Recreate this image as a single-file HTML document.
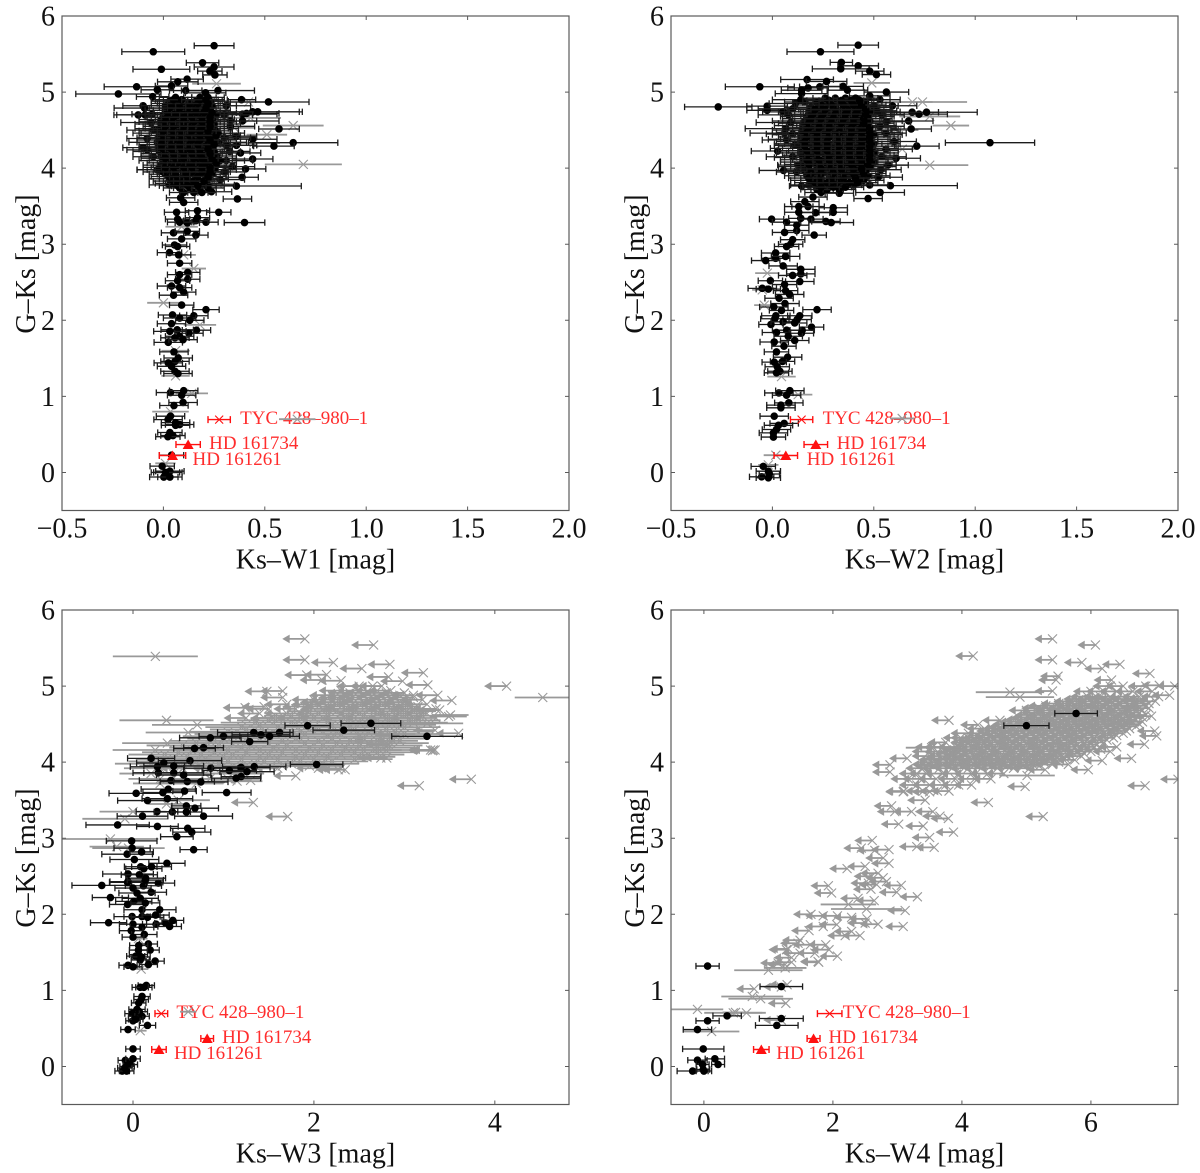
<!DOCTYPE html>
<html>
<head>
<meta charset="utf-8">
<title>Colour-colour diagrams</title>
<style>
html,body{margin:0;padding:0;background:#fff;width:1200px;height:1173px;overflow:hidden}
svg{display:block}
text{font-family:"Liberation Serif",serif}
</style>
</head>
<body>
<svg id="figure" width="1200" height="1173" viewBox="0 0 1200 1173" xmlns="http://www.w3.org/2000/svg"></svg>
<script>
/* ===== data: [x, y, xerr] detections; [x, y, xerr] grey (xerr 0 = upper limit) ===== */
const starNames = ['TYC 428–980–1', 'HD 161734', 'HD 161261'];
const starG = [0.695, 0.367, 0.223];
const w1StarX = [0.275, 0.122, 0.045];
const w1StarErr = [0.055, 0.06, 0.065];
const w2StarX = [0.144, 0.214, 0.066];
const w2StarErr = [0.055, 0.058, 0.058];
const w3StarX = [0.313, 0.82, 0.287];
const w3StarErr = [0.07, 0.07, 0.08];
const w4StarX = [1.95, 1.7, 0.89];
const w4StarErr = [0.19, 0.1, 0.12];

const w1Ticks = [-0.5, 0, 0.5, 1, 1.5, 2];
const w2Ticks = [-0.5, 0, 0.5, 1, 1.5, 2];
const w3Ticks = [0, 2, 4];
const w4Ticks = [0, 2, 4, 6];
const gTicks = [0, 1, 2, 3, 4, 5, 6];

const w1Detections = [
[-.05,5.53,.155],[.25,5.61,.098],[.193,5.385,.08],[.25,5.33,.098],[-.01,5.3,.14],[.229,5.275,.06],[.254,5.225,.06],[.117,5.17,.08],[.071,5.135,.1],[-.132,5.07,.16],[-.222,4.975,.21],[.04,5.08,.08],[.269,5.02,.18],[.11,5.02,.08],[-.03,5.03,.08],[-.053,4.94,.08],[.208,4.99,.1],[.385,4.9,.07],[.518,4.87,.2],[-.093,4.79,.15],[-.1,4.82,.1],[-.124,4.7,.12],[-.09,4.7,.14],[-.055,4.71,.1],[.39,4.71,.17],[.41,4.72,.16],[.44,4.74,.23],[.465,4.74,.22],[.39,4.62,.18],[.57,4.515,.1],[-.08,4.39,.1],[.44,4.38,.12],[.64,4.335,.22],[.545,4.29,.1],[-.1,4.27,.1],[-.08,4.24,.1],[.36,4.42,.1],[.36,4.3,.1],[.327,4.22,.1],[.38,4.2,.1],[.44,4.12,.1],[.405,3.99,.1],[.388,3.88,.08],[.36,3.765,.32],[.237,3.69,.1],[.365,3.595,.07],[.273,3.42,.06],[.4,3.285,.1],[.21,3.29,.06],[.168,3.44,.06],[.168,3.35,.06],[.16,3.31,.06],[.118,3.28,.06],[.065,3.42,.06],[.07,3.33,.06],[.08,3.29,.06],[.085,3.61,.07],[.1,3.55,.07],[.05,3.15,.06],[.118,3.17,.06],[.16,3.12,.06],[.09,3.07,.07],[.055,2.99,.06],[.07,2.97,.06],[.03,2.89,.06],[.075,2.86,.06],[.08,2.75,.06],[.12,2.63,.06],[.08,2.6,.06],[.12,2.54,.06],[.07,2.52,.06],[.04,2.45,.07],[.08,2.43,.06],[.1,2.37,.06],[.05,2.33,.07],
[.21,2.14,.065],[.045,2.07,.07],[.09,2.2,.06],[.15,2.06,.07],[.08,2.03,.08],[.13,2.0,.07],[.04,1.955,.07],[.163,1.87,.07],[.068,1.875,.08],[.126,1.83,.07],[.032,1.855,.08],[.08,1.79,.07],[.057,1.77,.07],[.024,1.71,.07],[.097,1.745,.07],[.052,1.585,.07],[.073,1.505,.07],[.057,1.46,.07],[.024,1.44,.07],[.04,1.395,.07],[.057,1.33,.07],[.072,1.3,.07],[.035,1.05,.07],[.1,1.075,.07],[.09,1.015,.07],[.097,.92,.07],[.052,.88,.07],[.035,.74,.07],[.023,.695,.07],[.06,.655,.07],[.08,.63,.07],[.06,.62,.07],[.032,.525,.06],[.047,.485,.06],[.022,.47,.06],[.04,.227,.06],[-.006,.083,.06],[.032,.017,.07],[.022,0,.07],[.002,-.06,.07],[.032,-.06,.06],[.01,0,.07],
[.3,4.7,.14],[.33,4.55,.12],[.31,4.1,.13],[.34,4.02,.11],[.3,3.95,.1],[.28,3.85,.12],[.3,4.4,.13],[-.05,4.5,.13],[-.06,4.6,.15],[-.05,4.15,.1],[-.03,3.98,.1],[.31,4.82,.12],[.33,4.62,.13],[.31,4.3,.13],[.03,3.78,.1],[.22,3.78,.13]];
const w1BlobRows = [
[3.68,.07,.1,.15,.19],[3.74,.08,.08,.13,.18,.22],[3.8,.09,.05,.1,.15,.2],[3.86,.1,.03,.08,.12,.17,.22],[3.92,.08,.01,.05,.1,.15,.2,.24],[3.98,.11,-.02,.03,.07,.12,.16,.21,.25],[4.04,.09,-.01,.04,.09,.13,.18,.22,.26],[4.1,.12,0,.05,.1,.14,.19,.24,.28],[4.16,.1,-.01,.03,.08,.12,.17,.21,.26],[4.22,.13,-.02,.03,.07,.12,.16,.2,.25],[4.28,.1,-.02,.02,.06,.11,.15,.2,.24],[4.34,.14,-.03,.01,.06,.1,.15,.19,.24,.27],[4.4,.11,-.02,.03,.07,.12,.16,.21,.25],[4.46,.13,-.02,.02,.07,.11,.15,.2,.24,.27],[4.52,.12,-.02,.03,.07,.12,.16,.2,.25],[4.58,.13,-.01,.04,.08,.13,.17,.21,.25],[4.64,.11,-.01,.03,.07,.12,.16,.21,.24],[4.7,.12,0,.05,.09,.13,.18,.22,.26],[4.76,.1,.01,.05,.1,.14,.18,.23],[4.82,.12,.01,.06,.1,.15,.19,.24],[4.88,.09,.03,.07,.16,.2,.23],[4.93,.08,.06,.18,.22]];
const w1BlobFillRows = [
[3.77,.09,.07,.12,.17],[3.83,.1,.05,.1,.15,.2],[3.89,.09,.03,.07,.12,.17,.22],[3.95,.1,0,.05,.1,.14,.19,.23],[4.01,.11,.01,.05,.1,.14,.19,.23],[4.07,.1,.02,.07,.12,.16,.21,.26],[4.13,.12,.01,.06,.1,.15,.19,.24],[4.19,.11,0,.05,.1,.14,.18,.23],[4.25,.12,0,.04,.09,.13,.18,.22],[4.31,.11,-.01,.04,.08,.13,.17,.22,.25],[4.37,.13,0,.05,.09,.14,.18,.23],[4.43,.12,0,.05,.09,.13,.18,.22,.26],[4.49,.12,0,.05,.09,.14,.18,.22],[4.55,.11,.01,.05,.1,.14,.19,.23],[4.61,.13,.01,.05,.1,.15,.19,.23],[4.67,.11,.02,.05,.1,.14,.19,.23],[4.73,.12,.03,.07,.12,.16,.2,.24],[4.79,.1,.03,.08,.12,.16,.21],[4.85,.11,.05,.08,.13,.17,.22],[4.9,.09,.05,.09,.18,.21]];
const w1Grey = [[.262,5.11,.12],[.42,4.87,.12],[.64,4.56,.15],[.51,4.44,.1],[.445,4.33,.13],[.69,4.05,.19],[.43,4.66,.15],[.27,3.79,.08],[.35,4.53,.1],[.09,3.23,.08],[.15,2.68,.06],[.1,2.86,.06],[.18,1.94,.08],[0,2.23,.08],[.06,1.6,.07],[.06,1.27,.07],[.14,1.04,.08],[.035,.8,.09],[.66,.7,.09],[.01,.12,.05]];

const w2Detections = [
[.423,5.617,.1],[.237,5.53,.165],[.34,5.39,.055],[.423,5.345,.1],[.337,5.305,.14],[.48,5.275,.07],[.513,5.23,.07],[.171,5.165,.13],[.267,5.14,.1],[.234,5.07,.1],[-.062,5.07,.17],[.176,5.055,.1],[.144,5.025,.1],[.144,4.98,.13],[.349,5.075,.1],[.37,5.025,.1],[.562,5.0,.11],[.53,4.9,.1],[.48,4.95,.1],[-.267,4.805,.166],[-.026,4.815,.1],[-.026,4.76,.1],[.052,4.74,.1],[.114,4.85,.13],[.16,4.87,.1],[.689,4.735,.13],[.723,4.71,.14],[.76,4.735,.25],[.513,4.755,.1],[.672,4.62,.12],[.562,4.61,.12],[.684,4.515,.1],[.592,4.82,.12],[.066,4.52,.2],[.06,4.46,.17],[.07,4.37,.12],[.11,4.3,.1],[.026,4.225,.13],[1.073,4.335,.22],[.712,4.29,.11],[.56,4.46,.1],[.6,4.35,.11],[.61,4.13,.12],[.57,4.04,.1],[.535,3.98,.1],[.521,3.88,.12],[.126,4.04,.1],[.055,3.97,.12],[.582,3.77,.33],[.531,3.68,.12],[.472,3.6,.07],[.33,3.67,.07],[.144,3.765,.06],[.176,3.495,.08],[.13,3.495,.07],[.3,3.48,.07],[.3,3.42,.07],[.213,3.415,.07],[.13,3.42,.07],[-.004,3.33,.06],[.07,3.29,.07],[.14,3.34,.06],[.19,3.33,.06],[.264,3.3,.07],[.29,3.285,.11],[.12,3.25,.06],[.12,3.18,.06],[.06,3.155,.06],[.206,3.12,.06],[.1,3.06,.06],[.09,3.0,.06],[.07,2.97,.06],[.016,2.885,.07],[.016,2.815,.07],[.065,2.84,.07],[-.033,2.785,.07],[.053,2.715,.07],[.14,2.67,.07],[.14,2.61,.07],[.1,2.59,.07],[.135,2.51,.07],[-.01,2.52,.06],[-.05,2.42,.07],[-.02,2.41,.06],[.06,2.47,.06],[.065,2.39,.06],[.085,2.34,.07],
[.033,2.29,.07],[.062,2.22,.07],[.007,2.175,.07],[.045,2.13,.06],[.22,2.14,.07],[.135,2.06,.06],[.017,2.06,.07],[.012,2.02,.07],[.122,2.01,.07],[-.007,1.945,.06],[.053,1.98,.06],[.11,1.965,.06],[.193,1.91,.06],[.147,1.87,.06],[.07,1.87,.07],[.02,1.84,.07],[.143,1.83,.06],[.078,1.79,.07],[.11,1.735,.07],[.009,1.715,.07],[.057,1.66,.06],[.02,1.585,.06],[.075,1.515,.07],[.05,1.46,.06],[.009,1.45,.06],[.024,1.39,.06],[.037,1.33,.06],[.02,1.31,.06],[.032,1.045,.07],[.086,1.075,.07],[.07,1.015,.07],[.081,.915,.07],[.042,.885,.07],[.042,.85,.07],[.009,.74,.07],[.058,.645,.07],[.03,.62,.07],[.02,.565,.07],[.005,.52,.07],[.005,.465,.06],[-.045,.08,.06],[-.02,.017,.06],[-.053,-.057,.06],[-.02,-.07,.06],[-.015,-.02,.05],
[.08,4.7,.15],[.09,4.6,.17],[.1,4.45,.13],[.1,4.15,.13],[.12,3.95,.1],[.54,4.7,.11],[.56,4.25,.13],[.53,4.55,.12],[.54,4.15,.12],[.5,4.82,.12],[.1,4.78,.17],[.14,4.9,.14],[.48,3.78,.09],[.24,3.68,.08],[.2,3.62,.07],[.16,3.56,.07]];
const w2BlobRows = [
[3.72,.08,.22,.27,.33],[3.78,.09,.18,.24,.29,.35,.4],[3.84,.1,.19,.24,.3,.35,.41,.45],[3.9,.11,.17,.22,.28,.33,.38,.43,.47],[3.96,.1,.16,.21,.26,.31,.37,.42,.46],[4.02,.13,.16,.22,.27,.32,.37,.42,.48],[4.08,.11,.15,.2,.25,.31,.36,.41,.46,.5],[4.14,.14,.15,.2,.26,.31,.36,.42,.47],[4.2,.12,.14,.19,.25,.3,.35,.4,.46,.5],[4.26,.15,.14,.2,.25,.3,.36,.41,.47],[4.32,.13,.14,.19,.24,.3,.35,.41,.46,.5],[4.38,.16,.14,.2,.25,.31,.36,.41,.47],[4.44,.14,.14,.19,.25,.3,.35,.41,.46,.5],[4.5,.15,.15,.2,.25,.31,.36,.42,.47],[4.56,.14,.15,.21,.26,.31,.37,.42,.47],[4.62,.16,.16,.21,.27,.32,.37,.42,.48],[4.68,.13,.17,.22,.27,.33,.38,.43,.47],[4.74,.15,.18,.23,.29,.34,.39,.44,.48],[4.8,.13,.19,.24,.3,.35,.4,.45],[4.86,.12,.22,.27,.32,.37,.42,.46],[4.92,.11,.26,.31,.36,.41]];
const w2BlobFillRows = [
[3.75,.09,.24,.3,.36],[3.81,.1,.21,.27,.32,.38,.42],[3.87,.1,.18,.24,.3,.35,.41],[3.93,.11,.19,.24,.3,.35,.4,.45],[3.99,.12,.18,.24,.29,.34,.4,.44],[4.05,.12,.18,.23,.28,.34,.39,.44,.47],[4.11,.13,.17,.23,.28,.33,.39,.44,.48],[4.17,.12,.17,.22,.28,.33,.38,.43,.48],[4.23,.14,.17,.22,.27,.33,.38,.43,.48],[4.29,.13,.16,.22,.27,.33,.38,.44,.48],[4.35,.14,.16,.22,.27,.33,.38,.44,.48],[4.41,.14,.17,.22,.28,.33,.38,.44,.48],[4.47,.15,.17,.22,.28,.33,.39,.44,.48],[4.53,.13,.18,.23,.28,.34,.39,.44,.48],[4.59,.15,.18,.24,.29,.34,.4,.45],[4.65,.14,.19,.24,.3,.35,.4,.45],[4.71,.14,.2,.25,.31,.36,.41,.46],[4.77,.13,.21,.26,.32,.37,.42,.46],[4.83,.12,.24,.29,.35,.4,.44],[4.89,.11,.28,.34,.39,.43]];
const w2Grey = [[.69,4.87,.1],[.74,4.87,.22],[.776,4.68,.15],[.88,4.56,.09],[.776,4.04,.19],[.49,5.12,.09],[-.025,2.62,.06],[-.05,2.4,.05],[-.04,2.2,.05],[.127,1.023,.07],[.64,.71,.06],[.017,.227,.06],[.045,1.26,.07],[-.02,.1,.05],[.62,4.5,.1],[.64,4.25,.08]];

const w3Detections = [
[2.63,4.51,.33],[2.33,4.42,.34],[1.93,4.48,.25],[1.62,4.39,.15],[3.25,4.34,.39],[1.335,4.39,.4],[1.415,4.36,.32],[1.51,4.34,.33],[1.0,4.34,.27],[.855,4.32,.34],[1.29,4.27,.2],[.78,4.19,.22],[.68,4.18,.23],[2.03,3.97,.29],[.63,4.02,.35],[.2,4.05,.26],[.34,3.99,.3],[.27,3.94,.3],[.45,3.95,.33],[.86,3.92,.3],[1.195,3.93,.32],[1.34,3.94,.35],[1.065,3.89,.3],[1.26,3.875,.3],[.28,3.86,.28],[.45,3.86,.33],[.56,3.83,.3],[1.195,3.81,.22],[1.14,3.79,.27],[.42,3.76,.35],[.6,3.745,.3],[.75,3.74,.3],[.035,3.59,.3],[.39,3.645,.3],[.33,3.6,.22],[.57,3.62,.13],[1.035,3.6,.27],[.16,3.495,.33],[.38,3.52,.28],[.59,3.425,.16],[.685,3.395,.26],[.265,3.35,.23],[.435,3.345,.2],[.59,3.345,.17],[.105,3.29,.28],[.78,3.29,.32],[-.17,3.175,.35],[.27,3.155,.23],[.605,3.13,.19],[.65,3.08,.21],[.485,3.02,.18],[-.015,2.965,.28],[-.01,2.87,.2],[.67,2.85,.15],[-.065,2.79,.28],[.095,2.82,.13],[.015,2.72,.27],[.375,2.67,.2],[.085,2.625,.18],[.12,2.6,.2],[.205,2.625,.22],[-.055,2.53,.28],[.07,2.52,.2],[.14,2.475,.22],[-.345,2.38,.33],[-.055,2.43,.2],[.13,2.42,.2],[.28,2.41,.18],[.115,2.375,.2],
[-.06,2.42,.2],[.136,2.45,.2],[0,2.345,.2],[.2,2.29,.17],[.044,2.28,.2],[-.25,2.22,.2],[.08,2.21,.2],[.008,2.17,.2],[-.06,2.13,.2],[.136,2.15,.16],[.1,2.06,.2],[.295,2.06,.18],[-.01,1.97,.2],[.1,1.97,.2],[.16,1.96,.18],[.25,1.99,.15],[-.27,1.89,.2],[.255,1.87,.15],[.36,1.885,.12],[.44,1.92,.12],[.405,1.84,.13],[0,1.87,.15],[.1,1.83,.13],[-.02,1.785,.13],[.125,1.735,.14],[0,1.7,.12],[.17,1.61,.1],[.063,1.59,.1],[.19,1.53,.1],[.06,1.53,.1],[.06,1.47,.1],[.03,1.45,.1],[.09,1.44,.1],[.08,1.4,.1],[.245,1.385,.1],[.17,1.34,.1],[-.055,1.33,.1],[0,1.31,.1],[.147,1.065,.09],[.08,1.04,.09],[.12,1.04,.09],[.1,.92,.09],[.063,.835,.08],[.09,.88,.08],[.044,.75,.09],[.07,.72,.09],[-.01,.695,.08],[.03,.66,.08],[.1,.66,.08],[0,.6,.08],[.03,.62,.08],[.16,.54,.09],[-.055,.485,.08],[0,.23,.08],[-.085,.08,.08],[0,.1,.08],[-.03,.025,.08],[-.065,0,.08],[-.12,-.06,.08],[-.07,-.06,.08],[-.09,-.02,.08]];
const w3Grey = [
[.247,5.39,.47],[1.9,5.62,0],[2.66,5.54,0],[1.9,5.345,0],[2.215,5.31,0],[2.84,5.285,0],[2.53,5.23,0],[3.21,5.175,0],[2.14,5.15,0],[1.92,5.145,0],[2.825,5.12,0],[2.3,5.07,0],[2.09,5.08,0],[2.98,5.065,0],[3.26,5.015,0],[4.13,5.0,0],[4.53,4.85,.31],[3.37,4.88,0],[3.525,4.81,0],[1.655,4.935,0],[1.48,4.93,0],[1.655,4.85,0],[1.24,4.715,0],[1.45,4.73,0],[3.39,4.685,0],[3.51,4.62,.2],[.37,4.55,.52],[.71,4.49,.5],[.61,4.39,.47],[.38,4.25,.5],[.245,4.16,.47],[3.32,4.16,0],[3.34,4.16,0],[3.31,4.15,0],[3.29,4.16,0],[2.805,4.055,0],[2.74,4.055,0],[2.345,3.9,0],[2.27,3.9,0],[1.8,3.82,0],[3.74,3.775,0],[3.165,3.69,0],[1.33,3.47,0],[1.71,3.285,0],[0,3.35,.37],[-.09,3.255,.47],[-.25,2.99,.53],[-.18,2.89,.3],[-.05,2.87,.4],[3.6,4.38,0],[2.92,4.36,0],[2.82,4.23,0],[3.34,4.42,0],[3.25,4.51,.4],[3.49,4.6,.2],[.61,.72,.09],[.08,.47,.07],[.09,1.28,.08],[.06,1.68,.1],[.37,3.45,.2],[.5,3.5,.35],[.3,3.72,.3],[.7,3.72,.3],[1.15,3.75,.28],[1.3,3.76,0]];
const w3GreyRows = [
[3.78,.35,.3,.55,.85,1.05],[3.85,.35,.2,.5,.8,1.1],[3.92,0,.55,.9,1.3,1.6,2.05,2.3],[3.92,.4,.3,.75,1.15],[3.98,.4,.2,.55,.95,1.35,1.75,2.1],[4.04,.42,.45,.8,1.2,1.6,2.0,2.45],[4.1,.4,.35,.75,1.1,1.5,1.9,2.3,2.6],[4.16,.42,.65,1.05,1.4,1.8,2.2,2.55,2.8],[4.22,.4,.55,.95,1.3,1.7,2.1,2.5,2.8],[4.28,.45,.85,1.25,1.65,2.05,2.4,2.7],[4.28,0,2.95,2.7],[4.34,.4,.95,1.35,1.75,2.15,2.5,2.85],[4.4,.42,1.05,1.45,1.85,2.25,2.6,2.9],[4.46,.4,1.2,1.6,2.0,2.4,2.7,3.0],[4.52,.38,1.35,1.75,2.15,2.5,2.85,3.1],[4.58,0,1.25,1.55,1.85,2.1,2.35,2.6,2.85,3.1,3.35],[4.58,.3,1.6,2.0,2.4,2.8],[4.64,.25,1.9,2.3,2.7,3.0],[4.64,0,1.4,1.7,2.05,2.5,2.95,3.25],[4.7,0,1.5,1.8,2.1,2.35,2.6,2.85,3.1,3.35],[4.7,.2,2.2,2.6,3.0],[4.76,0,1.7,2.0,2.25,2.5,2.75,3.0,3.25],[4.82,0,2.0,2.2,2.4,2.6,2.85,3.05,3.2],[4.88,0,2.2,2.4,2.55,2.75,2.95,3.1],[4.94,0,2.3,2.5,2.7,2.85],[5.0,0,2.5,2.65,2.75]];
const w3GreyFillRows = [
[3.95,.38,.45,.85,1.25,1.65,1.95],[4.01,.4,.35,.7,1.05,1.45,1.85,2.2],[4.07,.4,.6,1,1.4,1.8,2.15,2.5],[4.13,.4,.5,.9,1.25,1.65,2.05,2.45,2.7],[4.19,.4,.8,1.2,1.55,1.95,2.35,2.7],[4.25,.42,.7,1.1,1.5,1.9,2.25,2.6,2.85],[4.31,.4,1,1.4,1.8,2.2,2.55,2.85],[4.37,.42,1.1,1.5,1.9,2.3,2.7,3],[4.43,.4,1.25,1.65,2.05,2.45,2.8],[4.49,.4,1.4,1.8,2.2,2.6,2.95],[4.55,.35,1.5,1.9,2.3,2.7,3.05],[4.61,.3,1.75,2.15,2.55,2.9,3.2],[4.67,.25,1.95,2.25,2.45,2.75,3.1],[4.73,0,1.9,2.15,2.4,2.65,2.9,3.15],[4.79,0,2.1,2.3,2.55,2.8,3.05],[4.85,0,2.3,2.5,2.7,2.9,3.1],[4.91,0,2.4,2.6,2.8,3]];

const w4Detections = [[5.77,4.64,.33],[5.0,4.48,.35],[.057,1.32,.18],[1.2,1.05,.33],[.36,.665,.22],[1.2,.63,.34],[.057,.6,.18],[1.13,.54,.33],[-.1,.485,.22],[-.01,.23,.32],[.17,.1,.15],[-.1,.083,.15],[.22,.026,.1],[-.02,.026,.1],[-.01,-.04,.1],[-.175,-.06,.24],[0,-.06,.12]];
const w4Grey = [
[5.405,5.62,0],[6.07,5.54,0],[4.175,5.395,0],[5.405,5.345,0],[5.86,5.31,0],[6.45,5.285,0],[6.175,5.23,0],[6.915,5.165,0],[5.49,5.13,0],[5.46,5.08,0],[6.32,5.08,0],[7.06,5.01,0],[7.3,5.0,0],[7.22,4.88,0],[4.745,4.92,.53],[4.9,4.855,.53],[5.405,4.935,0],[3.8,4.55,0],[4.59,4.55,0],[4.25,4.49,0],[6.94,4.605,0],[6.99,4.41,0],[7.02,4.345,0],[6.83,4.235,0],[6.63,4.05,0],[6.175,4.02,0],[5.96,3.9,0],[5.29,3.9,0],[5.01,3.825,.43],[4.98,3.68,0],[6.84,3.69,0],[7.35,3.775,0],[5.26,3.285,0],[4.41,3.47,0],[3.15,4.05,0],[2.885,3.965,0],[2.885,3.87,0],[3.53,4.19,.4],
[3.09,3.61,0],[3.5,3.61,0],[3.43,3.5,0],[2.91,3.425,0],[2.96,3.35,0],[3.22,3.35,0],[3.55,3.35,0],[3.66,3.29,0],[3.79,3.26,0],[3.02,3.185,0],[3.4,3.16,0],[3.87,3.08,0],[3.5,3.01,0],[3.3,2.89,0],[3.57,2.88,0],[2.61,2.97,0],[2.44,2.87,0],[2.65,2.84,0],[2.87,2.85,0],[2.78,2.74,0],[2.87,2.67,0],[2.22,2.6,0],[2.5,2.63,0],[2.7,2.54,0],[2.6,2.5,0],[2.78,2.48,0],[2.55,2.41,0],[2.83,2.43,0],[2.68,2.39,0],[2.59,2.33,0],[3.06,2.38,0],[2.99,2.29,0],[1.93,2.375,0],[1.98,2.28,0],[3.31,2.23,0],[2.39,2.21,0],[2.64,2.18,0],[2.24,2.13,.43],[2.52,2.07,.55],[3.12,2.05,0],[1.66,2,0],[1.85,1.98,0],[2.07,1.98,0],[2.29,1.96,0],[2.53,1.94,0],[2.5,1.885,0],[2.7,1.87,0],[3.09,1.84,0],[2.06,1.865,0],[1.85,1.84,0],[1.63,1.785,0],[2.42,1.72,0],[2.29,1.775,0],[2.19,1.72,0],[1.49,1.66,0],[1.89,1.6,0],[1.65,1.6,0],[1.31,1.545,0],[1.94,1.535,0],[1.72,1.49,0],[2.07,1.45,0],[1.77,1.38,0],[1.36,1.37,0],[1.26,1.34,0],
[1.28,1.535,0],[1.46,1.62,0],[1.49,1.49,0],[1.36,1.43,0],[1.78,1.37,0],[1.15,1.36,0],[1,1.265,.53],[1.26,1.295,.33],[1.29,1.075,0],[1.2,1.045,0],[.78,1.02,0],[.75,.92,.48],[.88,.89,.5],[1.27,.83,0],[-.1,.75,.4],[.455,.705,.45],[.66,.705,.3],[.49,.71,.2],[.12,.46,.43],[1.2,.61,0]];
const w4GreyRows = [
[3.62,0,3.1,3.4,3.62,3.8],[3.7,0,3.3,3.5,3.75,3.95,4.15],[3.78,0,3.17,3.35,3.6,3.9,4.2,4.45],[3.85,0,3.3,3.45,3.7,3.95,4.15,4.4,4.65],[3.92,0,3.4,3.65,3.85,4.1,4.3,4.55,4.8,5.05],[3.97,0,3.5,3.7,3.95,4.2,4.4,4.65,4.85,5.1,5.4,5.65],[4.03,0,3.6,3.85,4.05,4.3,4.5,4.75,5.0,5.2,5.45,5.75],[4.08,0,3.5,3.75,4.0,4.2,4.45,4.65,4.9,5.1,5.3,5.55,5.85],[4.14,0,3.5,3.7,3.95,4.1,4.35,4.55,4.75,5.0,5.2,5.45,5.7,6.0,6.3],[4.2,0,3.55,3.7,3.9,4.15,4.4,4.6,4.85,5.05,5.3,5.5,5.75,6.05,6.4],[4.26,0,3.75,4.1,4.3,4.55,4.8,5.0,5.25,5.45,5.7,5.9,6.2],[4.32,0,3.98,4.1,4.3,4.5,4.7,4.9,5.15,5.35,5.6,5.8,6.05,6.35],[4.38,0,4.1,4.35,4.6,4.85,5.05,5.3,5.5,5.75,5.95,6.2,6.5],[4.44,0,4.35,4.6,4.8,5.0,5.25,5.45,5.7,5.9,6.15,6.35,6.6],[4.5,0,4.75,4.95,5.2,5.4,5.65,5.85,6.1,6.3,6.55,6.75],[4.56,0,4.95,5.2,5.4,5.6,5.85,6.05,6.3,6.5,6.7],[4.62,0,5.1,5.3,5.55,5.75,6.0,6.2,6.45,6.65,6.85],[4.68,0,5.0,5.2,5.45,5.7,5.9,6.1,6.35,6.55,6.8],[4.74,0,5.3,5.5,5.75,5.95,6.2,6.4,6.6,6.85],[4.8,0,5.7,5.9,6.1,6.3,6.5,6.75,7.0],[4.86,0,5.95,6.15,6.3,6.55,6.75,7.05],[4.93,0,6.0,6.2,6.4,6.65,6.95],[5.0,0,6.3,6.5,6.85]];
const w4GreyFillRows = [
[3.95,0,3.55,3.8,4.0,4.25,4.45,4.7,4.95,5.2],[4.0,0,3.6,3.85,4.05,4.3,4.55,4.8,5.0,5.3,5.5],[4.05,0,3.7,3.95,4.15,4.4,4.6,4.85,5.05,5.35,5.6],[4.11,0,3.85,4.05,4.25,4.5,4.7,4.95,5.15,5.4,5.65,5.9],[4.17,0,4,4.25,4.5,4.7,4.95,5.15,5.4,5.6,5.85,6.15],[4.23,0,4.2,4.45,4.65,4.9,5.1,5.35,5.6,5.8,6.1],[4.29,0,4.2,4.4,4.6,4.85,5.05,5.3,5.5,5.7,5.95,6.25],[4.35,0,4.45,4.65,4.8,5,5.2,5.45,5.65,5.9,6.1,6.4],[4.41,0,4.5,4.7,4.95,5.15,5.4,5.6,5.85,6.05,6.3,6.55],[4.47,0,4.7,4.9,5.1,5.35,5.55,5.8,6,6.25,6.45,6.7],[4.53,0,4.85,5.1,5.3,5.55,5.75,5.95,6.2,6.4,6.65,6.8],[4.59,0,5.05,5.3,5.5,5.7,5.95,6.15,6.4,6.6,6.8],[4.65,0,5.2,5.4,5.65,5.85,6.05,6.3,6.5,6.75],[4.71,0,5.2,5.4,5.6,5.85,6.05,6.3,6.5,6.75,6.9],[4.77,0,5.5,5.7,5.85,6.05,6.25,6.45,6.65,6.9],[4.83,0,5.85,6.05,6.2,6.4,6.6,6.85]];

const panels = [
 {id:'w1', label:'Ks–W1 [mag]', left:62, top:16, w:507, h:494.5, xMin:-0.5, xMax:2, ticks:w1Ticks, dec:1, dets:w1Detections, blob:w1BlobRows.concat(w1BlobFillRows), grey:w1Grey, greyRows:[], starX:w1StarX, starErr:w1StarErr, arrowPx:22, dx:[21,21,20]},
 {id:'w2', label:'Ks–W2 [mag]', left:671, top:16, w:507, h:494.5, xMin:-0.5, xMax:2, ticks:w2Ticks, dec:1, dets:w2Detections, blob:w2BlobRows.concat(w2BlobFillRows), grey:w2Grey, greyRows:[], starX:w2StarX, starErr:w2StarErr, arrowPx:22, dx:[21,21,21]},
 {id:'w3', label:'Ks–W3 [mag]', left:62, top:610, w:507, h:494.5, xMin:-0.785, xMax:4.82, ticks:w3Ticks, dec:0, dets:w3Detections, blob:[], grey:w3Grey, greyRows:w3GreyRows.concat(w3GreyFillRows), starX:w3StarX, starErr:w3StarErr, arrowPx:22, dx:[15,15,15]},
 {id:'w4', label:'Ks–W4 [mag]', left:671, top:610, w:507, h:494.5, xMin:-0.51, xMax:7.35, ticks:w4Ticks, dec:0, dets:w4Detections, blob:[], grey:w4Grey, greyRows:w4GreyRows.concat(w4GreyFillRows), starX:w4StarX, starErr:w4StarErr, arrowPx:17.5, dx:[13,15,15]}
];

/* ===== drawing ===== */
const NS = 'http://www.w3.org/2000/svg';
const svg = document.getElementById('figure');
const FRAME = '#5a5a5a', GREY = '#999999', DARK = '#1c1c1c', RED = '#ff1010';

function mk(tag, parent, attrs) {
  const e = document.createElementNS(NS, tag);
  for (const k in attrs) e.setAttribute(k, attrs[k]);
  parent.appendChild(e);
  return e;
}
function expand(rows) {
  const out = [];
  rows.forEach(r => r.slice(2).forEach(x => out.push([x, r[0], r[1]])));
  return out;
}

panels.forEach((p, idx) => {
  const sx = v => p.left + (v - p.xMin) / (p.xMax - p.xMin) * p.w;
  const sy = v => p.top + (6 - v) / 6.5 * p.h;
  const bottom = p.top + p.h, right = p.left + p.w;

  const panel = mk('g', svg, {});
  
  

  const clip = mk('clipPath', panel, {id: 'clip-' + p.id});
  mk('rect', clip, {x: p.left, y: p.top, width: p.w, height: p.h});

  /* star labels first: grey marks overlap them in the reference */
  starNames.forEach((name, i) => {
    const t = mk('text', panel, {
      x: sx(p.starX[i]) + p.dx[i],
      y: sy(starG[i]) + (i === 2 ? 9.5 : 4.5),
      'font-size': 19, fill: RED, 'fill-opacity': 0.88
    });
    if (i === 0) t.setAttribute('textLength', '128');
    t.textContent = name;
    
    
  });

  const plot = mk('g', panel, {'clip-path': 'url(#clip-' + p.id + ')'});
  
  

  /* grey non-detections */
  const greyAll = p.grey.concat(expand(p.greyRows));
  greyAll.forEach(d => {
    const cx = sx(d[0]), cy = sy(d[1]);
    const g = mk('g', plot, {stroke: GREY, fill: 'none'});
    
    
    if (d[2] > 0) {
      mk('line', g, {x1: sx(d[0] - d[2]), x2: sx(d[0] + d[2]), y1: cy, y2: cy, 'stroke-width': 1.8});
    } else {
      mk('line', g, {x1: cx - p.arrowPx + 3, x2: cx, y1: cy, y2: cy, 'stroke-width': 1.8});
      mk('path', g, {d: 'M' + (cx - p.arrowPx) + ' ' + cy + 'l6.5 -3.8v7.6z', fill: GREY, 'stroke-width': 0.6});
    }
    mk('path', g, {d: 'M' + (cx - 4.5) + ' ' + (cy - 4.5) + 'l9 9M' + (cx - 4.5) + ' ' + (cy + 4.5) + 'l9 -9', 'stroke-width': 1.1});
  });

  /* black detections */
  const detAll = p.dets.concat(expand(p.blob));
  detAll.forEach(d => {
    const cx = sx(d[0]), cy = sy(d[1]), a = sx(d[0] - d[2]), b = sx(d[0] + d[2]);
    const g = mk('g', plot, {});
    
    
    mk('path', g, {d: 'M' + a + ' ' + cy + 'H' + b + 'M' + a + ' ' + (cy - 3.2) + 'v6.4M' + b + ' ' + (cy - 3.2) + 'v6.4', stroke: DARK, 'stroke-width': 1.3, fill: 'none'});
    mk('circle', g, {cx: cx, cy: cy, r: 3.8, fill: '#000'});
  });

  /* red stars */
  starNames.forEach((name, i) => {
    const v = p.starX[i], cx = sx(v), cy = sy(starG[i]), a = sx(v - p.starErr[i]), b = sx(v + p.starErr[i]);
    const g = mk('g', plot, {});
    
    
    mk('path', g, {d: 'M' + a + ' ' + cy + 'H' + b + 'M' + a + ' ' + (cy - 3.5) + 'v7M' + b + ' ' + (cy - 3.5) + 'v7', stroke: RED, 'stroke-width': 1.4, fill: 'none'});
    if (i === 0) {
      mk('path', g, {d: 'M' + (cx - 4) + ' ' + (cy - 4) + 'l8 8M' + (cx - 4) + ' ' + (cy + 4) + 'l8 -8', stroke: RED, 'stroke-width': 1.1, fill: 'none'});
    } else {
      mk('path', g, {d: 'M' + (cx - 5.5) + ' ' + (cy + 4.5) + 'h11l-5.5 -9.5z', fill: RED});
    }
  });

  /* frame */
  const frame = mk('rect', panel, {x: p.left, y: p.top, width: p.w, height: p.h, fill: 'none', stroke: FRAME, 'stroke-width': 1.2});
  
  

  /* x ticks */
  p.ticks.forEach(v => {
    const x = sx(v);
    const tk = mk('path', panel, {d: 'M' + x + ' ' + bottom + 'v-4M' + x + ' ' + p.top + 'v4', stroke: FRAME, 'stroke-width': 1});
    
    
    const t = mk('text', panel, {x: x, y: bottom + 27, 'font-size': 28, 'text-anchor': 'middle', fill: '#111'});
    t.textContent = (v < 0 ? '−' : '') + Math.abs(v).toFixed(p.dec);
    
    
  });

  /* y ticks */
  gTicks.forEach(v => {
    const y = sy(v);
    const tk = mk('path', panel, {d: 'M' + p.left + ' ' + y + 'h4M' + right + ' ' + y + 'h-4', stroke: FRAME, 'stroke-width': 1});
    
    
    const t = mk('text', panel, {x: p.left - 7, y: y + 9.5, 'font-size': 28, 'text-anchor': 'end', fill: '#111'});
    t.textContent = String(v);
    
    
  });

  /* axis titles */
  const xt = mk('text', panel, {x: p.left + p.w / 2, y: bottom + 58, 'font-size': 28, 'text-anchor': 'middle', fill: '#111'});
  xt.textContent = p.label;
  
  

  const ycx = p.left - 27, ycy = p.top + 248;
  const yt = mk('text', panel, {x: ycx, y: ycy, 'font-size': 28, 'text-anchor': 'middle', fill: '#111', transform: 'rotate(-90 ' + ycx + ' ' + ycy + ')'});
  yt.textContent = 'G–Ks [mag]';
  
  
});
</script>
</body>
</html>
